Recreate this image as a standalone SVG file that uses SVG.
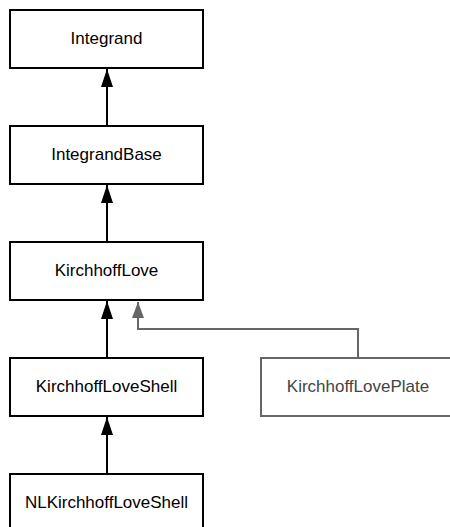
<svg xmlns="http://www.w3.org/2000/svg" width="450" height="527" viewBox="0 0 450 527">
<style>
.box{fill:#fff;stroke:#000;stroke-width:2}
.gbox{fill:#fff;stroke:#666;stroke-width:2}
.lbl{font-family:"Liberation Sans",Arial,sans-serif;font-size:17px;fill:#000;text-anchor:middle}
.glbl{font-family:"Liberation Sans",Arial,sans-serif;font-size:17px;fill:#444;text-anchor:middle}
.edge{fill:none;stroke:#000;stroke-width:2}
.gedge{fill:none;stroke:#666;stroke-width:2}
</style>
<defs>
<marker id="ah" markerWidth="18" markerHeight="12" refX="18" refY="6" orient="auto" markerUnits="userSpaceOnUse" viewBox="0 0 18 12">
<path d="M0,0 L18,6 L0,12 Z" fill="#000"/>
</marker>
<marker id="gah" markerWidth="16" markerHeight="12" refX="16" refY="6" orient="auto" markerUnits="userSpaceOnUse" viewBox="0 0 16 12">
<path d="M0,0 L16,6 L0,12 Z" fill="#666"/>
</marker>
</defs>
<g id="connectors">
<path class="edge" d="M107,126 L107,69" marker-end="url(#ah)"/>
<path class="edge" d="M107,242 L107,185" marker-end="url(#ah)"/>
<path class="edge" d="M107,358 L107,301" marker-end="url(#ah)"/>
<path class="edge" d="M107,474 L107,417" marker-end="url(#ah)"/>
<path class="gedge" d="M358,357 L358,329 L138,329 L138,302" marker-end="url(#gah)"/>
</g>
<g id="Integrand"><rect class="box" x="10" y="10" width="193" height="58"/><text class="lbl" x="106.5" y="43.5">Integrand</text></g>
<g id="IntegrandBase"><rect class="box" x="10" y="126" width="193" height="58"/><text class="lbl" x="106.5" y="159.5">IntegrandBase</text></g>
<g id="KirchhoffLove"><rect class="box" x="10" y="242" width="193" height="58"/><text class="lbl" x="106.5" y="275.5">KirchhoffLove</text></g>
<g id="KirchhoffLoveShell"><rect class="box" x="10" y="358" width="193" height="58"/><text class="lbl" x="106.5" y="391.5">KirchhoffLoveShell</text></g>
<g id="NLKirchhoffLoveShell"><rect class="box" x="10" y="474" width="193" height="58"/><text class="lbl" x="106.5" y="507.5">NLKirchhoffLoveShell</text></g>
<g id="KirchhoffLovePlate"><rect class="gbox" x="261" y="358" width="200" height="58"/><text class="glbl" x="358" y="391.5">KirchhoffLovePlate</text></g>
</svg>
